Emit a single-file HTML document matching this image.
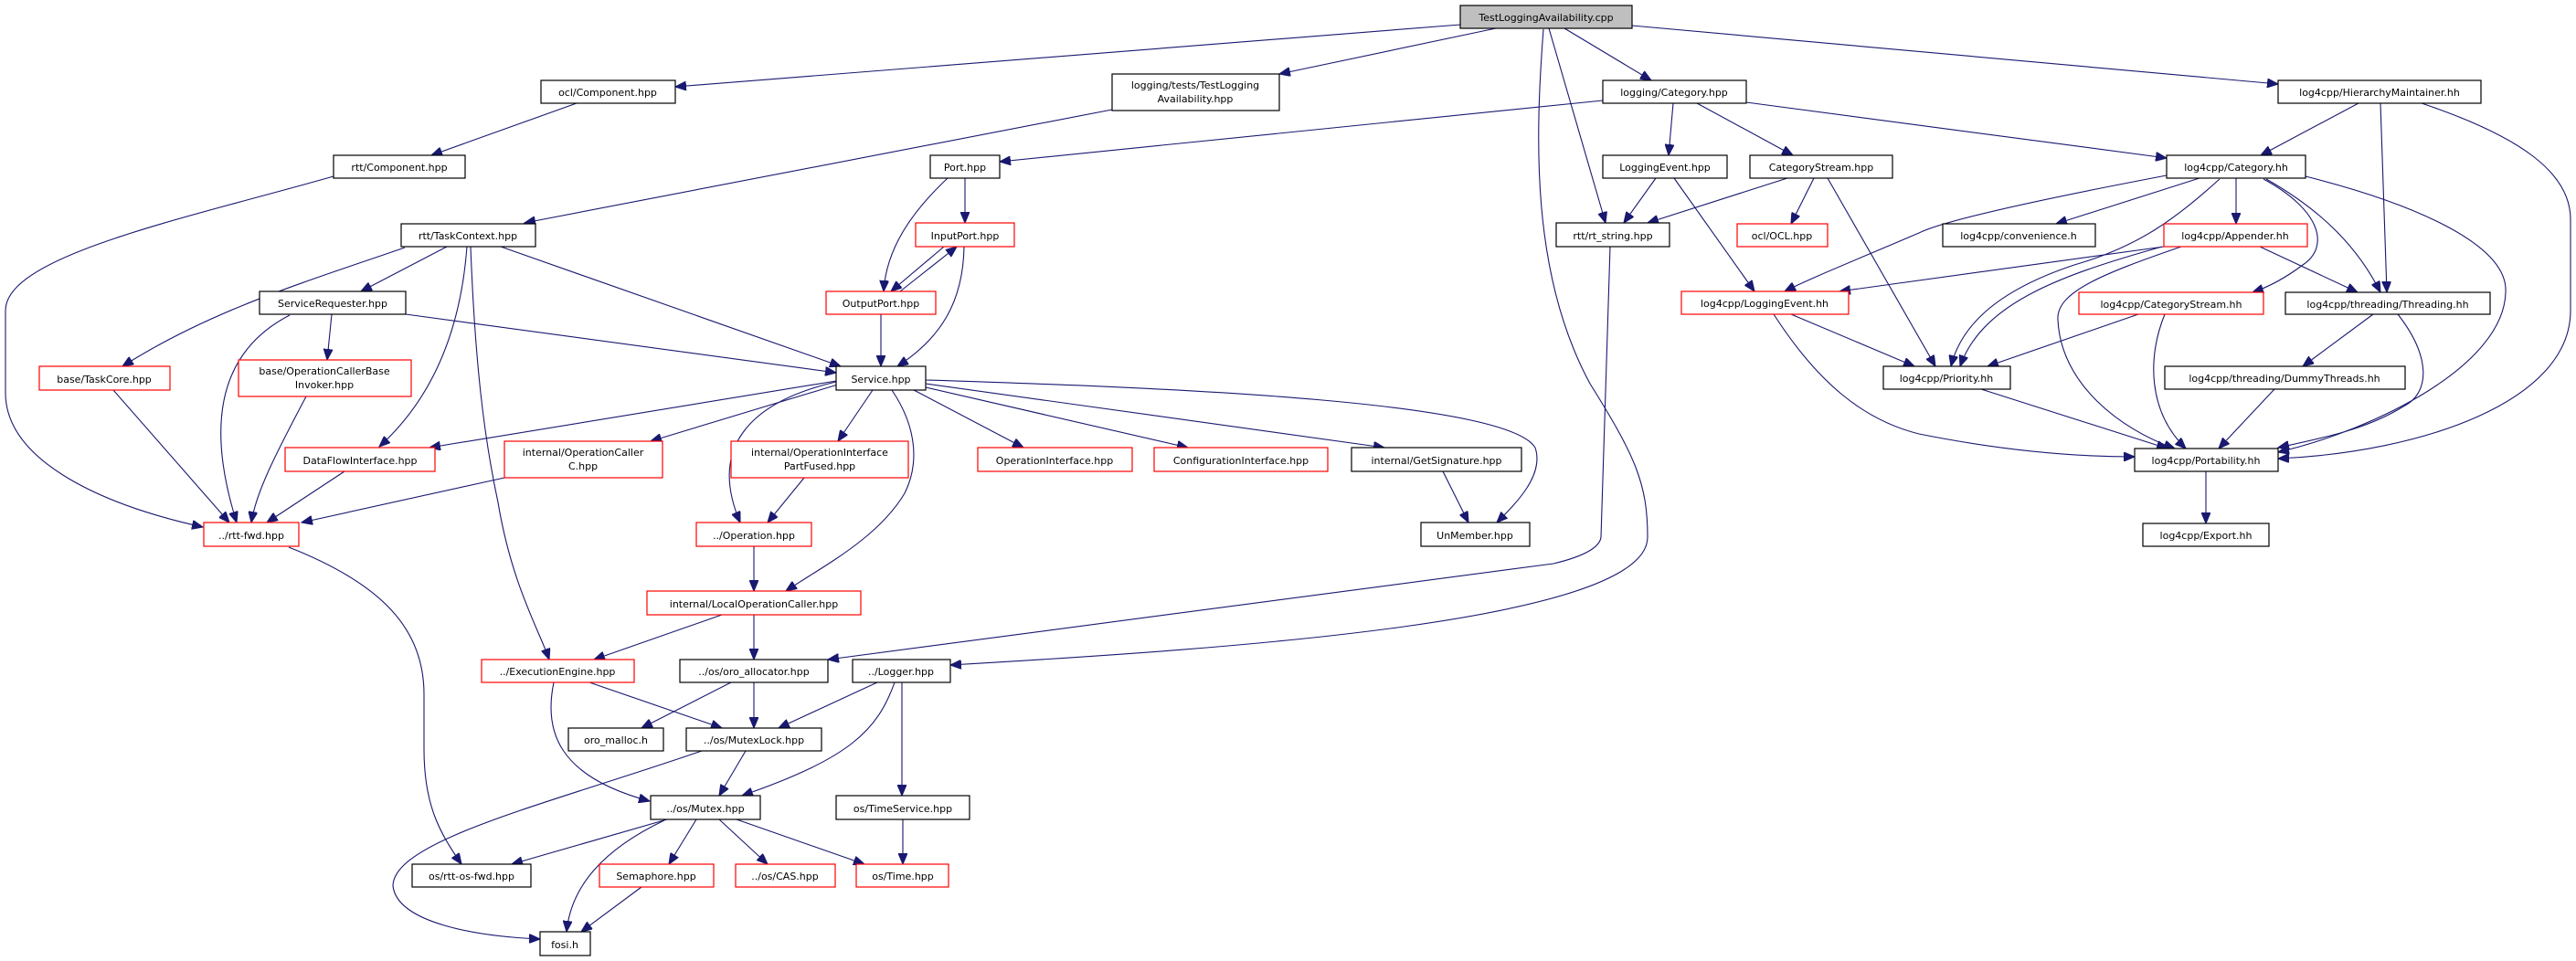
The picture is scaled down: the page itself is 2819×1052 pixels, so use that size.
<!DOCTYPE html>
<html><head><meta charset="utf-8"><style>
html,body{margin:0;padding:0;background:#fff}
svg{display:block}
text{font-family:"DejaVu Sans","Liberation Sans",sans-serif;font-size:11px;text-anchor:middle;fill:#000}
.n{fill:#fff;stroke:#000;stroke-width:1.2}
.r{fill:#fff;stroke:#ff0000;stroke-width:1.2}
.g{fill:#bfbfbf;stroke:#000;stroke-width:1.2}
path{fill:none;stroke:#191970;stroke-width:1.1}
</style></head><body>
<svg width="2819" height="1052" viewBox="0 0 2819 1052" xmlns="http://www.w3.org/2000/svg">
<defs><marker id="a" markerUnits="userSpaceOnUse" markerWidth="14" markerHeight="10" refX="12" refY="5" orient="auto"><path d="M0,0 L12,5 L0,10 Z" style="fill:#191970;stroke:#191970"/></marker></defs>
<g marker-end="url(#a)">
<path d="M1598,27 L739,95"/>
<path d="M1637,31 L1400,81"/>
<path d="M1712,31 L1807,88"/>
<path d="M1695,31 L1757,244"/>
<path d="M1689,32 C1680,150 1675,300 1740,420 C1790,500 1803,530 1803,588 C1803,680 1350,710 1040,728"/>
<path d="M1786,28 L2493,92"/>
<path d="M1217,120 L574,244"/>
<path d="M631,113 L472,170"/>
<path d="M365,193 C200,240 6,280 6,340 L6,430 C6,500 100,550 222,577"/>
<path d="M443,271 C330,310 230,340 134,401"/>
<path d="M489,270 L395,319"/>
<path d="M511,270 C505,350 480,430 415,489"/>
<path d="M515,270 C520,400 530,480 545,550 C560,640 590,690 601,722"/>
<path d="M548,270 L920,401"/>
<path d="M363,344 L358,394"/>
<path d="M444,344 L915,408"/>
<path d="M317,345 C230,390 230,480 259,572"/>
<path d="M124,427 L251,572"/>
<path d="M335,434 C300,500 280,540 275,572"/>
<path d="M377,516 L292,572"/>
<path d="M552,523 L330,572"/>
<path d="M1056,195 L1056,244"/>
<path d="M1037,195 C1000,230 970,270 967,319"/>
<path d="M1033,270 L975,319"/>
<path d="M985,319 L1047,270"/>
<path d="M1055,270 C1054,330 1030,370 982,401"/>
<path d="M964,344 L964,401"/>
<path d="M1754,110 L1094,177"/>
<path d="M1831,113 L1826,170"/>
<path d="M1857,113 L1962,170"/>
<path d="M1911,112 L2371,173"/>
<path d="M1812,195 L1777,244"/>
<path d="M1832,195 L1920,319"/>
<path d="M1956,195 L1803,244"/>
<path d="M1985,195 L1960,245"/>
<path d="M2000,195 L2118,401"/>
<path d="M1762,270 L1752,588 Q1750,605 1700,617 L906,722"/>
<path d="M1960,344 L2095,401"/>
<path d="M1941,344 C1990,420 2040,460 2100,475 C2200,495 2280,500 2336,500"/>
<path d="M2371,192 C2250,215 2130,240 2100,255 C2030,285 1980,305 1953,319"/>
<path d="M2407,195 L2250,245"/>
<path d="M2429,196 C2380,240 2340,270 2270,290 C2180,320 2145,360 2135,401"/>
<path d="M2447,195 L2447,245"/>
<path d="M2477,196 C2540,230 2550,270 2520,290 C2500,305 2480,315 2465,320"/>
<path d="M2480,196 C2540,230 2580,270 2605,320"/>
<path d="M2523,193 C2650,225 2745,270 2742,320 C2740,400 2600,470 2493,495"/>
<path d="M2581,113 L2474,170"/>
<path d="M2605,113 L2612,320"/>
<path d="M2650,113 C2760,150 2813,190 2813,240 L2813,340 C2813,440 2650,495 2493,502"/>
<path d="M2368,270 L2013,319"/>
<path d="M2366,270 C2260,300 2170,330 2145,401"/>
<path d="M2387,270 C2300,300 2250,320 2252,350 C2255,420 2320,470 2380,491"/>
<path d="M2473,270 L2580,320"/>
<path d="M2340,344 L2175,401"/>
<path d="M2369,344 C2350,390 2350,450 2392,491"/>
<path d="M2597,344 L2520,401"/>
<path d="M2624,344 C2660,390 2660,430 2630,445 C2590,470 2540,480 2493,490"/>
<path d="M2489,426 L2428,491"/>
<path d="M2168,426 L2372,491"/>
<path d="M2414,516 L2414,573"/>
<path d="M915,417 L470,490"/>
<path d="M920,420 L712,483"/>
<path d="M915,418 C820,440 775,490 810,572"/>
<path d="M955,427 L917,483"/>
<path d="M976,427 C1005,470 1005,510 990,540 C960,590 900,620 860,647"/>
<path d="M1000,427 L1120,490"/>
<path d="M1013,424 L1300,490"/>
<path d="M1013,420 L1515,490"/>
<path d="M1013,416 C1300,425 1650,440 1680,490 C1690,520 1660,550 1638,572"/>
<path d="M880,523 L840,572"/>
<path d="M1579,516 L1607,572"/>
<path d="M825,598 L825,647"/>
<path d="M790,673 L650,722"/>
<path d="M825,673 L825,722"/>
<path d="M645,747 L790,797"/>
<path d="M606,747 C595,800 610,850 711,877"/>
<path d="M800,747 L702,797"/>
<path d="M825,747 L825,797"/>
<path d="M960,747 L852,797"/>
<path d="M979,747 C960,800 930,830 812,871"/>
<path d="M987,747 L987,871"/>
<path d="M816,822 L787,871"/>
<path d="M768,822 C600,880 430,920 430,970 C435,1010 520,1025 591,1028"/>
<path d="M730,897 L560,946"/>
<path d="M727,898 C660,930 625,970 620,1020"/>
<path d="M762,897 L732,946"/>
<path d="M787,897 L840,946"/>
<path d="M806,897 L946,946"/>
<path d="M988,897 L988,946"/>
<path d="M702,971 L636,1020"/>
<path d="M316,599 C420,640 464,690 464,760 L464,820 C464,880 480,910 505,946"/>
</g>
<g>
<rect class="g" x="1598" y="6" width="188" height="25"/><text x="1692" y="23">TestLoggingAvailability.cpp</text>
<rect class="n" x="592" y="88" width="147" height="25"/><text x="665" y="105">ocl/Component.hpp</text>
<rect class="n" x="1217" y="81" width="183" height="40"/><text x="1308" y="97">logging/tests/TestLogging</text><text x="1308" y="112">Availability.hpp</text>
<rect class="n" x="1754" y="88" width="157" height="25"/><text x="1832" y="105">logging/Category.hpp</text>
<rect class="n" x="2493" y="88" width="222" height="25"/><text x="2604" y="105">log4cpp/HierarchyMaintainer.hh</text>
<rect class="n" x="365" y="170" width="144" height="25"/><text x="437" y="187">rtt/Component.hpp</text>
<rect class="n" x="1018" y="170" width="76" height="25"/><text x="1056" y="187">Port.hpp</text>
<rect class="n" x="1754" y="170" width="136" height="25"/><text x="1822" y="187">LoggingEvent.hpp</text>
<rect class="n" x="1915" y="170" width="156" height="25"/><text x="1993" y="187">CategoryStream.hpp</text>
<rect class="n" x="2371" y="170" width="152" height="25"/><text x="2447" y="187">log4cpp/Category.hh</text>
<rect class="n" x="439" y="245" width="147" height="25"/><text x="512" y="262">rtt/TaskContext.hpp</text>
<rect class="r" x="1002" y="244" width="108" height="26"/><text x="1056" y="262">InputPort.hpp</text>
<rect class="n" x="1703" y="244" width="124" height="26"/><text x="1765" y="262">rtt/rt_string.hpp</text>
<rect class="r" x="1901" y="245" width="99" height="25"/><text x="1950" y="262">ocl/OCL.hpp</text>
<rect class="n" x="2126" y="245" width="167" height="25"/><text x="2209" y="262">log4cpp/convenience.h</text>
<rect class="r" x="2368" y="245" width="157" height="25"/><text x="2446" y="262">log4cpp/Appender.hh</text>
<rect class="n" x="284" y="319" width="160" height="25"/><text x="364" y="336">ServiceRequester.hpp</text>
<rect class="r" x="904" y="319" width="120" height="25"/><text x="964" y="336">OutputPort.hpp</text>
<rect class="r" x="1840" y="319" width="183" height="25"/><text x="1931" y="336">log4cpp/LoggingEvent.hh</text>
<rect class="r" x="2275" y="320" width="202" height="24"/><text x="2376" y="337">log4cpp/CategoryStream.hh</text>
<rect class="n" x="2501" y="320" width="224" height="24"/><text x="2613" y="337">log4cpp/threading/Threading.hh</text>
<rect class="r" x="43" y="401" width="143" height="26"/><text x="114" y="419">base/TaskCore.hpp</text>
<rect class="r" x="261" y="394" width="189" height="40"/><text x="355" y="410">base/OperationCallerBase</text><text x="355" y="425">Invoker.hpp</text>
<rect class="n" x="915" y="401" width="98" height="26"/><text x="964" y="419">Service.hpp</text>
<rect class="n" x="2061" y="401" width="139" height="25"/><text x="2130" y="418">log4cpp/Priority.hh</text>
<rect class="n" x="2369" y="401" width="263" height="25"/><text x="2500" y="418">log4cpp/threading/DummyThreads.hh</text>
<rect class="r" x="312" y="490" width="164" height="26"/><text x="394" y="508">DataFlowInterface.hpp</text>
<rect class="r" x="552" y="483" width="173" height="40"/><text x="638" y="499">internal/OperationCaller</text><text x="638" y="514">C.hpp</text>
<rect class="r" x="800" y="483" width="194" height="40"/><text x="897" y="499">internal/OperationInterface</text><text x="897" y="514">PartFused.hpp</text>
<rect class="r" x="1070" y="490" width="169" height="26"/><text x="1154" y="508">OperationInterface.hpp</text>
<rect class="r" x="1263" y="490" width="190" height="26"/><text x="1358" y="508">ConfigurationInterface.hpp</text>
<rect class="n" x="1479" y="490" width="186" height="26"/><text x="1572" y="508">internal/GetSignature.hpp</text>
<rect class="n" x="2336" y="491" width="157" height="25"/><text x="2414" y="508">log4cpp/Portability.hh</text>
<rect class="r" x="223" y="572" width="104" height="26"/><text x="275" y="590">../rtt-fwd.hpp</text>
<rect class="r" x="762" y="572" width="126" height="26"/><text x="825" y="590">../Operation.hpp</text>
<rect class="n" x="1555" y="572" width="119" height="26"/><text x="1614" y="590">UnMember.hpp</text>
<rect class="n" x="2345" y="573" width="138" height="25"/><text x="2414" y="590">log4cpp/Export.hh</text>
<rect class="r" x="708" y="647" width="234" height="26"/><text x="825" y="665">internal/LocalOperationCaller.hpp</text>
<rect class="r" x="527" y="722" width="167" height="25"/><text x="610" y="739">../ExecutionEngine.hpp</text>
<rect class="n" x="744" y="722" width="162" height="25"/><text x="825" y="739">../os/oro_allocator.hpp</text>
<rect class="n" x="933" y="722" width="107" height="25"/><text x="986" y="739">../Logger.hpp</text>
<rect class="n" x="622" y="797" width="104" height="25"/><text x="674" y="814">oro_malloc.h</text>
<rect class="n" x="751" y="797" width="148" height="25"/><text x="825" y="814">../os/MutexLock.hpp</text>
<rect class="n" x="712" y="871" width="120" height="26"/><text x="772" y="889">../os/Mutex.hpp</text>
<rect class="n" x="915" y="871" width="146" height="26"/><text x="988" y="889">os/TimeService.hpp</text>
<rect class="n" x="451" y="946" width="130" height="25"/><text x="516" y="963">os/rtt-os-fwd.hpp</text>
<rect class="r" x="656" y="946" width="125" height="25"/><text x="718" y="963">Semaphore.hpp</text>
<rect class="r" x="805" y="946" width="109" height="25"/><text x="859" y="963">../os/CAS.hpp</text>
<rect class="r" x="937" y="946" width="101" height="25"/><text x="988" y="963">os/Time.hpp</text>
<rect class="n" x="591" y="1020" width="55" height="26"/><text x="618" y="1038">fosi.h</text>
</g>
</svg>
</body></html>
